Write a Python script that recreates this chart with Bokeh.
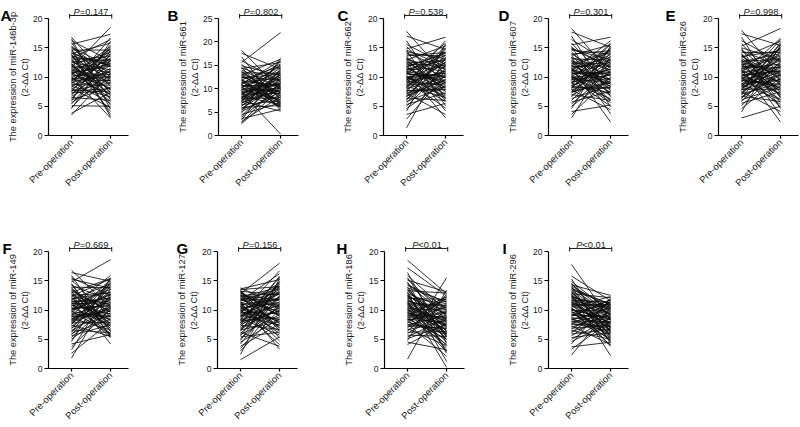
import math
from bokeh.plotting import figure
from bokeh.layouts import row, column
from bokeh.models import FixedTicker, Range1d, ColumnDataSource, LinearAxis
from bokeh.core.properties import value
from bokeh.embed import file_html
from bokeh.resources import INLINE

groups = ["Pre-operation", "Post-operation"]
letters = ["A", "B", "C", "D", "E", "F", "G", "H", "I"]
mirnas = ["miR-146b-3p", "miR-661", "miR-662", "miR-607", "miR-626",
          "miR-149", "miR-127", "miR-186", "miR-296"]
p_texts = ["=0.147", "=0.802", "=0.538", "=0.301", "=0.998",
           "=0.669", "=0.156", "<0.01", "<0.01"]
y_max = [20, 25, 20, 20, 20, 20, 20, 20, 20]

pre_A = [16.8, 16.5, 16.2, 15.9, 15.6, 15.3, 15.1, 14.8, 14.6, 14.4,
         14.2, 14.0, 13.8, 13.6, 13.4, 13.2, 13.0, 12.9, 12.7, 12.5,
         12.3, 12.1, 12.0, 11.8, 11.6, 11.5, 11.3, 11.1, 11.0, 10.8,
         10.7, 10.5, 10.4, 10.2, 10.1, 9.9, 9.8, 9.6, 9.5, 9.3,
         9.2, 9.0, 8.9, 8.7, 8.5, 8.4, 8.2, 8.0, 7.9, 7.7,
         7.5, 7.3, 7.1, 6.9, 6.7, 6.5, 6.3, 6.1, 5.9, 5.6,
         5.4, 5.1, 4.8, 4.6, 3.8, 3.5, 13.9, 12.6, 11.4, 10.6,
         9.7, 8.8, 12.2, 14.1, 10.9, 9.4, 11.9, 13.3, 7.6, 15.0]
post_A = [9.2, 4.5, 12.8, 6.1, 17.3, 8.4, 11.7, 3.2, 14.6, 10.1,
          7.3, 15.8, 5.2, 12.1, 9.6, 16.4, 6.8, 13.5, 8.9, 11.2,
          4.1, 14.2, 10.7, 7.9, 18.5, 12.6, 5.8, 9.9, 13.9, 6.4,
          11.9, 8.1, 15.2, 10.4, 3.0, 13.1, 7.1, 12.4, 9.4, 14.8,
          5.5, 11.0, 16.7, 8.6, 10.9, 6.6, 13.7, 4.8, 12.0, 9.0,
          15.5, 7.6, 11.5, 14.4, 10.2, 6.0, 13.3, 8.2, 16.1, 9.8,
          12.9, 5.0, 11.3, 14.0, 7.4, 10.6, 3.6, 13.0, 8.8, 12.3,
          10.0, 15.0, 6.9, 11.8, 9.3, 14.5, 7.8, 12.7, 8.0, 10.5]

pre_B = [18.2, 17.6, 16.8, 16.0, 15.6, 15.2, 14.9, 14.6, 14.3, 14.0,
         13.7, 13.4, 13.1, 12.9, 12.6, 12.4, 12.1, 11.9, 11.7, 11.4,
         11.2, 11.0, 10.8, 10.6, 10.4, 10.2, 10.0, 9.8, 9.6, 9.4,
         9.2, 9.0, 8.8, 8.6, 8.4, 8.2, 8.0, 7.8, 7.6, 7.4,
         7.2, 7.0, 6.8, 6.6, 6.4, 6.2, 6.0, 5.8, 5.6, 5.4,
         5.1, 4.8, 4.5, 4.2, 3.9, 3.6, 3.3, 3.0, 2.7, 2.5,
         12.3, 10.9, 9.5, 8.3, 13.6, 11.1, 7.5, 14.4, 9.9, 10.7,
         8.7, 12.8, 6.9, 11.6, 9.1, 13.2, 10.3, 7.9, 11.8, 8.1]
post_B = [9.8, 14.2, 6.3, 11.5, 22.0, 7.9, 12.8, 5.4, 15.6, 10.1,
          8.4, 13.3, 6.9, 16.3, 9.2, 11.9, 5.9, 14.8, 10.6, 7.2,
          12.4, 16.0, 8.8, 10.9, 6.0, 13.8, 9.5, 11.2, 15.1, 7.6,
          0.3, 12.1, 9.0, 14.5, 6.6, 10.4, 13.0, 8.1, 11.6, 5.2,
          15.9, 9.7, 12.6, 7.4, 10.8, 14.0, 6.4, 11.0, 8.6, 13.5,
          9.3, 16.5, 7.0, 12.2, 10.3, 5.6, 14.3, 8.3, 11.4, 9.9,
          13.1, 6.8, 10.0, 12.9, 8.0, 15.3, 9.6, 11.7, 7.7, 10.5,
          13.6, 8.5, 12.0, 6.2, 11.1, 9.1, 14.7, 10.2, 7.1, 12.5]

pre_C = [17.8, 17.0, 16.2, 15.6, 15.2, 14.8, 14.5, 14.1, 13.8, 13.5,
         13.2, 12.9, 12.6, 12.4, 12.1, 11.9, 11.7, 11.5, 11.2, 11.0,
         10.8, 10.6, 10.4, 10.2, 10.0, 9.8, 9.6, 9.4, 9.2, 9.0,
         8.8, 8.6, 8.4, 8.2, 8.0, 7.8, 7.6, 7.4, 7.2, 7.0,
         6.8, 6.6, 6.4, 6.2, 6.0, 5.8, 5.6, 5.3, 5.0, 4.6,
         4.2, 3.6, 2.8, 1.3, 12.7, 11.3, 9.9, 8.7, 13.6, 10.9,
         7.7, 14.3, 10.5, 9.3, 12.2, 11.6, 8.1, 13.0, 6.7, 10.1,
         11.8, 9.7, 12.9, 8.5, 10.7, 14.6, 7.3, 11.1, 9.5, 13.3]
post_C = [10.3, 14.7, 6.2, 12.1, 8.9, 16.8, 5.1, 11.4, 13.6, 7.6,
          9.8, 15.3, 4.2, 12.8, 10.9, 6.9, 14.1, 8.2, 11.7, 3.0,
          13.2, 9.4, 15.8, 7.1, 10.6, 12.4, 5.8, 14.4, 8.6, 11.1,
          16.2, 9.0, 6.5, 13.0, 10.0, 12.6, 7.9, 15.0, 3.6, 11.9,
          9.6, 13.8, 6.0, 10.8, 14.9, 8.4, 12.2, 7.3, 11.5, 9.2,
          15.6, 5.5, 10.4, 13.4, 8.0, 12.9, 6.7, 11.0, 14.2, 9.9,
          7.8, 13.1, 10.2, 4.7, 12.0, 8.7, 15.4, 11.3, 9.5, 6.4,
          14.0, 10.7, 7.5, 12.5, 9.1, 11.8, 8.3, 13.7, 10.1, 5.9]

pre_D = [18.3, 17.7, 17.0, 16.4, 15.8, 15.5, 15.2, 14.9, 14.6, 14.3,
         14.0, 13.7, 13.4, 13.1, 12.8, 12.6, 12.3, 12.1, 11.8, 11.6,
         11.4, 11.2, 11.0, 10.8, 10.6, 10.4, 10.2, 10.0, 9.8, 9.6,
         9.4, 9.2, 9.0, 8.8, 8.6, 8.4, 8.2, 8.0, 7.8, 7.6,
         7.4, 7.2, 7.0, 6.8, 6.6, 6.3, 6.0, 5.7, 5.4, 5.0,
         4.6, 4.1, 3.6, 3.0, 12.9, 11.5, 10.1, 9.1, 13.9, 11.9,
         8.5, 14.7, 10.7, 9.7, 12.4, 11.1, 8.9, 13.3, 7.5, 10.3,
         12.0, 9.9, 13.6, 8.3, 11.3, 15.0, 7.9, 10.9, 9.5, 12.7]
post_D = [10.6, 15.1, 6.6, 12.3, 8.7, 16.8, 4.9, 11.6, 13.9, 7.8,
          9.5, 15.5, 3.7, 12.9, 10.2, 7.1, 14.4, 8.4, 11.9, 2.3,
          13.4, 9.1, 16.2, 7.4, 10.9, 12.6, 5.6, 14.7, 8.9, 11.3,
          15.8, 9.7, 6.3, 13.1, 10.4, 12.1, 8.1, 15.0, 4.4, 11.8,
          9.3, 14.1, 6.0, 10.7, 14.9, 8.6, 12.4, 7.6, 11.1, 9.9,
          15.3, 5.2, 10.0, 13.6, 8.3, 12.8, 6.9, 11.4, 14.5, 9.4,
          7.3, 13.0, 10.5, 5.0, 12.2, 8.8, 15.6, 11.2, 9.0, 6.1,
          14.2, 10.8, 7.7, 12.7, 9.6, 11.7, 8.2, 13.8, 10.3, 5.9]

pre_E = [18.0, 17.4, 16.8, 16.2, 15.7, 15.3, 14.9, 14.5, 14.2, 13.9,
         13.6, 13.3, 13.0, 12.7, 12.5, 12.2, 12.0, 11.7, 11.5, 11.3,
         11.1, 10.9, 10.7, 10.5, 10.3, 10.1, 9.9, 9.7, 9.5, 9.3,
         9.1, 8.9, 8.7, 8.5, 8.3, 8.1, 7.9, 7.7, 7.5, 7.3,
         7.1, 6.9, 6.7, 6.5, 6.3, 6.1, 5.8, 5.5, 5.1, 4.6,
         4.0, 3.0, 12.8, 11.4, 10.0, 8.8, 13.8, 11.8, 8.4, 14.6,
         10.6, 9.6, 12.3, 11.0, 8.0, 13.2, 7.2, 10.2, 12.1, 9.8,
         13.5, 8.6, 11.2, 15.0, 7.8, 10.8, 9.4, 12.6, 6.6, 14.0]
post_E = [10.2, 15.4, 6.4, 12.6, 8.5, 18.3, 4.6, 11.8, 14.2, 7.3,
          9.7, 16.1, 3.4, 13.0, 10.8, 6.8, 14.7, 8.0, 12.2, 2.3,
          13.6, 9.2, 16.6, 7.0, 11.0, 12.8, 5.3, 15.0, 8.7, 11.5,
          16.4, 9.5, 6.1, 13.3, 10.4, 12.4, 7.9, 15.7, 4.1, 11.9,
          9.0, 14.4, 5.8, 10.6, 15.2, 8.3, 12.7, 7.5, 11.3, 9.9,
          15.5, 5.0, 10.1, 13.8, 8.1, 13.1, 6.6, 11.6, 14.9, 9.4,
          7.1, 13.4, 10.5, 4.9, 12.1, 8.8, 15.9, 11.1, 9.1, 6.2,
          14.5, 10.9, 7.7, 12.9, 9.6, 11.7, 8.4, 14.0, 10.3, 5.6]

pre_F = [16.8, 16.4, 15.9, 15.5, 15.1, 14.8, 14.5, 14.2, 13.9, 13.6,
         13.3, 13.0, 12.8, 12.5, 12.3, 12.0, 11.8, 11.6, 11.4, 11.2,
         11.0, 10.8, 10.6, 10.4, 10.2, 10.0, 9.8, 9.6, 9.4, 9.2,
         9.0, 8.8, 8.6, 8.4, 8.2, 8.0, 7.8, 7.6, 7.4, 7.2,
         7.0, 6.8, 6.6, 6.4, 6.2, 6.0, 5.8, 5.6, 5.3, 5.0,
         4.6, 4.2, 3.7, 3.2, 2.6, 1.8, 12.9, 11.5, 10.1, 9.1,
         13.8, 11.9, 8.5, 14.4, 10.7, 9.7, 12.4, 11.1, 8.9, 13.2,
         7.5, 10.3, 12.1, 9.9, 13.5, 8.3, 11.3, 15.3, 7.9, 10.9]
post_F = [10.4, 14.9, 6.3, 12.5, 8.8, 18.6, 5.6, 11.7, 13.8, 7.6,
          9.6, 15.4, 4.2, 12.9, 10.9, 6.9, 14.5, 8.2, 12.0, 5.3,
          13.5, 9.3, 15.9, 7.3, 10.7, 12.7, 5.9, 14.2, 8.6, 11.3,
          15.2, 9.8, 6.6, 13.2, 10.2, 12.2, 7.9, 15.0, 5.5, 11.9,
          9.1, 14.0, 6.1, 10.6, 14.7, 8.4, 12.4, 7.5, 11.1, 10.0,
          15.5, 5.8, 10.1, 13.6, 8.0, 12.8, 6.8, 11.5, 14.4, 9.4,
          7.2, 13.0, 10.5, 5.4, 12.1, 8.9, 15.3, 11.2, 9.0, 6.4,
          14.1, 10.8, 7.7, 12.6, 9.7, 11.8, 8.3, 13.7, 10.3, 6.0]

pre_G = [13.8, 13.6, 13.4, 13.2, 13.0, 12.8, 12.6, 12.4, 12.2, 12.0,
         11.8, 11.6, 11.4, 11.2, 11.0, 10.8, 10.6, 10.4, 10.2, 10.0,
         9.8, 9.6, 9.4, 9.2, 9.0, 8.8, 8.6, 8.4, 8.2, 8.0,
         7.8, 7.6, 7.4, 7.2, 7.0, 6.8, 6.6, 6.4, 6.2, 6.0,
         5.8, 5.6, 5.4, 5.1, 4.8, 4.5, 4.2, 3.8, 3.4, 3.0,
         2.4, 1.5, 12.9, 11.5, 10.1, 9.1, 13.3, 11.9, 8.5, 12.7,
         10.7, 9.7, 12.3, 11.1, 8.9, 13.1, 7.5, 10.3, 12.1, 9.9,
         13.5, 8.3, 11.3, 12.5, 7.9, 10.9, 9.5, 11.7, 6.7, 10.5]
post_G = [10.6, 15.2, 6.5, 12.6, 8.9, 18.0, 5.2, 11.8, 13.9, 7.7,
          9.7, 16.2, 3.3, 13.1, 11.0, 7.0, 14.6, 8.3, 12.1, 4.1,
          13.5, 9.4, 16.7, 7.4, 10.8, 12.8, 5.7, 14.3, 8.7, 11.4,
          15.6, 9.9, 6.7, 13.3, 10.3, 12.3, 8.0, 15.0, 3.8, 12.0,
          9.2, 14.1, 6.2, 10.7, 14.8, 8.5, 12.5, 7.6, 11.2, 10.1,
          15.4, 5.4, 10.2, 13.7, 8.1, 12.9, 6.9, 11.6, 14.4, 9.5,
          7.3, 13.0, 10.5, 4.7, 12.2, 9.0, 15.8, 11.3, 9.1, 6.4,
          14.0, 10.9, 7.8, 12.7, 9.8, 11.9, 8.4, 13.6, 10.4, 6.0]

pre_H = [18.5, 17.2, 16.4, 15.9, 15.5, 15.1, 14.8, 14.5, 14.2, 13.9,
         13.6, 13.3, 13.0, 12.8, 12.5, 12.3, 12.0, 11.8, 11.6, 11.4,
         11.2, 11.0, 10.8, 10.6, 10.4, 10.2, 10.0, 9.8, 9.6, 9.4,
         9.2, 9.0, 8.8, 8.6, 8.4, 8.2, 8.0, 7.8, 7.6, 7.4,
         7.2, 7.0, 6.8, 6.6, 6.4, 6.2, 6.0, 5.7, 5.4, 5.1,
         4.8, 4.5, 4.1, 1.6, 12.9, 11.5, 10.1, 9.1, 13.8, 11.9,
         8.5, 14.4, 10.7, 9.7, 12.4, 11.1, 8.9, 13.2, 7.5, 10.3,
         12.1, 9.9, 13.5, 8.3, 11.3, 15.3, 7.9, 10.9, 9.5, 12.6]
post_H = [12.8, 12.4, 4.3, 9.9, 6.2, 13.1, 2.6, 8.9, 11.3, 5.4,
          7.1, 12.9, 1.2, 10.3, 8.3, 4.9, 11.8, 6.0, 9.4, 0.2,
          10.8, 7.0, 5.9, 5.2, 8.1, 10.0, 3.5, 11.6, 6.6, 8.7,
          12.2, 7.4, 4.1, 10.5, 7.9, 9.6, 5.8, 12.0, 2.1, 9.1,
          6.9, 11.0, 3.9, 8.2, 12.6, 6.3, 9.7, 5.5, 8.6, 7.5,
          15.5, 3.2, 7.7, 13.4, 5.9, 10.1, 4.6, 8.8, 11.4, 7.2,
          5.0, 10.4, 8.0, 2.9, 9.3, 6.5, 12.3, 8.5, 6.8, 4.0,
          11.1, 8.4, 5.6, 9.8, 7.3, 9.0, 6.1, 10.7, 7.6, 3.0]

pre_I = [17.8, 15.8, 15.3, 14.9, 14.6, 14.3, 14.0, 13.8, 13.5, 13.3,
         13.0, 12.8, 12.6, 12.3, 12.1, 11.9, 11.7, 11.5, 11.3, 11.1,
         10.9, 10.7, 10.5, 10.3, 10.1, 9.9, 9.7, 9.5, 9.3, 9.1,
         8.9, 8.7, 8.5, 8.3, 8.1, 7.9, 7.7, 7.5, 7.3, 7.1,
         6.9, 6.7, 6.5, 6.3, 6.1, 5.9, 5.6, 5.3, 5.0, 4.6,
         4.2, 3.7, 3.3, 2.3, 12.9, 11.6, 10.2, 9.2, 13.7, 12.0,
         8.6, 14.1, 10.8, 9.8, 12.4, 11.2, 9.0, 13.4, 7.6, 10.4,
         12.2, 10.0, 13.1, 8.4, 11.4, 14.4, 8.0, 11.0, 9.6, 12.7]
post_I = [8.2, 11.6, 5.3, 9.6, 6.9, 12.5, 4.3, 9.0, 10.9, 6.2,
          7.6, 12.1, 2.2, 10.2, 8.6, 5.7, 11.3, 6.6, 9.4, 3.8,
          10.6, 7.3, 12.3, 6.0, 8.4, 10.0, 4.8, 11.1, 7.0, 8.9,
          11.8, 7.8, 5.1, 10.4, 8.0, 9.5, 6.4, 11.5, 4.1, 9.2,
          7.4, 10.8, 5.0, 8.5, 11.4, 6.7, 9.8, 6.1, 8.7, 7.9,
          12.0, 4.5, 8.1, 10.5, 6.5, 10.1, 5.5, 8.8, 11.0, 7.5,
          5.9, 10.3, 8.3, 4.0, 9.3, 7.1, 11.7, 8.6, 7.2, 5.2,
          10.7, 8.5, 6.3, 9.9, 7.7, 9.1, 6.8, 10.9, 8.0, 4.6]

pre_all = [pre_A, pre_B, pre_C, pre_D, pre_E, pre_F, pre_G, pre_H, pre_I]
post_all = [post_A, post_B, post_C, post_D, post_E, post_F, post_G, post_H, post_I]

# ---- layout / style constants (pixels) ----
FONT = "Liberation Sans"
FRAME_W, FRAME_H = 80, 117
BORDER_T = 18
X0, X1 = -0.59, 1.46
TXT = "#1a1a1a"
COL_START = [0, 165, 330, 495, 662]
PAGE_W = 800
AXIS_X = [48, 218, 383, 548, 718, 48, 217, 384, 548]
LETTER_X = [0, 167, 337, 498, 665, 2, 176, 336, 502]


def make_panel(i, col, bottom_border):
    ymax = y_max[i]
    c0 = COL_START[col]
    c1 = COL_START[col + 1] if col + 1 < len(COL_START) else PAGE_W
    b_left = AXIS_X[i] - c0
    b_right = (c1 - c0) - b_left - FRAME_W
    p = figure(frame_width=FRAME_W, frame_height=FRAME_H,
               x_range=Range1d(X0, X1), y_range=Range1d(0, ymax),
               output_backend="svg", toolbar_location=None,
               min_border_left=b_left, min_border_right=b_right,
               min_border_top=BORDER_T, min_border_bottom=bottom_border,
               outline_line_color=None, background_fill_color=None,
               border_fill_color="white")
    p.xgrid.grid_line_color = None
    p.ygrid.grid_line_color = None

    xs = [[0, 1] for _ in pre_all[i]]
    ys = [[a, b] for a, b in zip(pre_all[i], post_all[i])]
    src = ColumnDataSource(dict(xs=xs, ys=ys))
    p.multi_line("xs", "ys", source=src, line_color="#0d0d0d", line_width=0.85,
                 level="overlay")

    # significance bracket (drawn above the frame, not clipped)
    px_per_unit = FRAME_H / ymax
    yb = ymax + 3.0 / px_per_unit
    p.line([-0.05, 1.03], [yb, yb], line_color="#222222", line_width=1.1,
           level="overlay")
    p.segment(x0=[-0.05, 1.03], y0=[yb - 3.0 / px_per_unit] * 2,
              x1=[-0.05, 1.03], y1=[yb + 1.5 / px_per_unit] * 2,
              line_color="#222222", line_width=1.1, level="overlay")
    rest = p_texts[i]
    off = -11.3 if rest.startswith("=") else -8.7
    p.text(x=[0.5], y=[yb], text=["P"], text_font=value(FONT),
           text_font_style="italic", text_font_size="9.3px",
           text_align="right", text_baseline="alphabetic", x_offset=off,
           y_offset=-4, text_color=TXT, level="overlay")
    p.text(x=[0.5], y=[yb], text=[rest], text_font=value(FONT),
           text_font_size="9.3px", text_align="left", text_baseline="alphabetic",
           x_offset=off, y_offset=-4, text_color=TXT, level="overlay")

    # panel letter (inside this panel's own canvas)
    p.text(x=[X0], y=[ymax], text=[letters[i]], text_font=value(FONT),
           text_font_style="bold", text_font_size="15px", text_align="left",
           text_baseline="alphabetic", x_offset=LETTER_X[i] - AXIS_X[i],
           y_offset=-(BORDER_T - 15), text_color="black", level="overlay")

    # axes
    xa = p.xaxis[0]
    xa.ticker = FixedTicker(ticks=[0, 1])
    xa.major_label_overrides = {0: groups[0], 1: groups[1]}
    xa.major_label_orientation = math.pi / 4
    xa.minor_tick_line_color = None
    xa.major_tick_in = 0
    xa.major_tick_out = 3
    xa.major_label_standoff = 2
    xa.axis_line_width = 1.2
    xa.major_tick_line_width = 1.2
    xa.major_label_text_font = FONT
    xa.major_label_text_font_size = "9.5px"
    xa.major_label_text_color = TXT

    ya = p.yaxis[0]
    ya.ticker = FixedTicker(ticks=list(range(0, ymax + 1, 5)))
    ya.minor_tick_line_color = None
    ya.major_tick_in = 0
    ya.major_tick_out = 4
    ya.major_label_standoff = 2
    ya.axis_line_width = 1.2
    ya.major_tick_line_width = 1.2
    ya.major_label_text_font = FONT
    ya.major_label_text_font_size = "8.5px"
    ya.major_label_text_color = TXT
    ya.axis_label = "(2-ΔΔ Ct)"
    ya.axis_label_text_font = FONT
    ya.axis_label_text_font_size = "9.3px"
    ya.axis_label_text_font_style = "normal"
    ya.axis_label_text_color = TXT
    ya.axis_label_standoff = 0

    # outer axis carrying only the first line of the y title
    ya2 = LinearAxis(ticker=FixedTicker(ticks=[]),
                     axis_label="The expression of " + mirnas[i],
                     axis_line_color=None, major_tick_line_color=None,
                     minor_tick_line_color=None, major_tick_out=0,
                     major_tick_in=0, minor_tick_out=0, minor_tick_in=0,
                     major_label_standoff=0, axis_label_standoff=0,
                     axis_label_text_font=FONT,
                     axis_label_text_font_size="9.3px",
                     axis_label_text_font_style="normal",
                     axis_label_text_color=TXT)
    p.add_layout(ya2, "left")
    return p


top = [make_panel(i, i, 98) for i in range(5)]
bottom = [make_panel(5 + j, j, 59) for j in range(4)]
layout = column(row(*top, spacing=0), row(*bottom, spacing=0), spacing=0)

open("out.html", "w").write(file_html(layout, INLINE))
